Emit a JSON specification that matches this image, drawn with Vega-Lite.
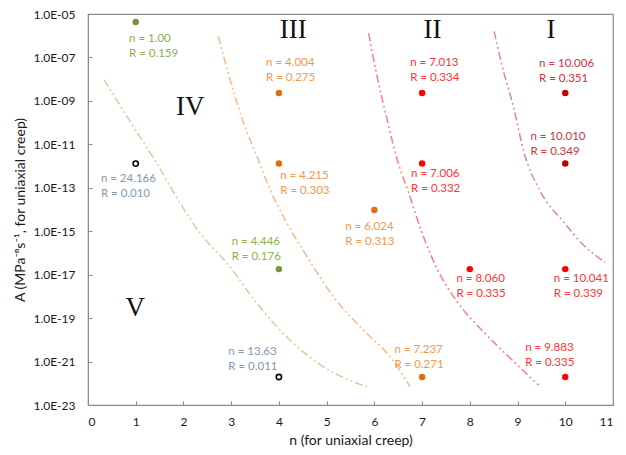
{
  "$schema": "https://vega.github.io/schema/vega-lite/v6.json",
  "width": 525,
  "height": 391,
  "autosize": "none",
  "padding": {"left": 88, "top": 14, "right": 13, "bottom": 50},
  "background": "white",
  "config": {
    "view": {"stroke": "#8c8c8c", "strokeWidth": 1.2},
    "axis": {
      "grid": false,
      "domainColor": "#8c8c8c",
      "tickColor": "#8c8c8c",
      "tickSize": -4,
      "labelFont": "Lato",
      "labelFontSize": 12,
      "labelColor": "#1a1a1a",
      "titleFont": "Lato",
      "titleFontSize": 14,
      "titleFontWeight": "normal",
      "titleColor": "#1a1a1a"
    }
  },
  "datasets": {
    "curves": [
      {"boundary": "IV-V", "n": 0.335, "A": 9.3e-9},
      {"boundary": "IV-V", "n": 0.95, "A": 6.6e-11},
      {"boundary": "IV-V", "n": 1.44, "A": 1.35e-12},
      {"boundary": "IV-V", "n": 1.93, "A": 1.95e-14},
      {"boundary": "IV-V", "n": 2.35, "A": 8.1e-16},
      {"boundary": "IV-V", "n": 2.91, "A": 3.4e-17},
      {"boundary": "IV-V", "n": 3.54, "A": 4.8e-19},
      {"boundary": "IV-V", "n": 4.23, "A": 9.8e-21},
      {"boundary": "IV-V", "n": 4.93, "A": 5.8e-22},
      {"boundary": "IV-V", "n": 5.84, "A": 6.9e-23},
      {"boundary": "III-IV", "n": 2.73, "A": 9.3e-7},
      {"boundary": "III-IV", "n": 2.98, "A": 9.3e-9},
      {"boundary": "III-IV", "n": 3.26, "A": 9.5e-11},
      {"boundary": "III-IV", "n": 3.54, "A": 2.75e-12},
      {"boundary": "III-IV", "n": 3.82, "A": 7.9e-14},
      {"boundary": "III-IV", "n": 4.17, "A": 2.3e-15},
      {"boundary": "III-IV", "n": 4.59, "A": 6.8e-17},
      {"boundary": "III-IV", "n": 5.14, "A": 9.8e-19},
      {"boundary": "III-IV", "n": 5.77, "A": 2.8e-20},
      {"boundary": "III-IV", "n": 6.33, "A": 1.66e-21},
      {"boundary": "III-IV", "n": 6.75, "A": 6.8e-23},
      {"boundary": "II-III", "n": 5.88, "A": 1.3e-6},
      {"boundary": "II-III", "n": 6.05, "A": 1.6e-8},
      {"boundary": "II-III", "n": 6.26, "A": 1.6e-10},
      {"boundary": "II-III", "n": 6.47, "A": 2.3e-12},
      {"boundary": "II-III", "n": 6.71, "A": 6.6e-14},
      {"boundary": "II-III", "n": 6.99, "A": 9.5e-16},
      {"boundary": "II-III", "n": 7.31, "A": 1.95e-17},
      {"boundary": "II-III", "n": 7.73, "A": 5.8e-19},
      {"boundary": "II-III", "n": 8.29, "A": 2.3e-20},
      {"boundary": "II-III", "n": 8.85, "A": 1.4e-21},
      {"boundary": "II-III", "n": 9.44, "A": 8.3e-23},
      {"boundary": "I-II", "n": 8.51, "A": 1.6e-6},
      {"boundary": "I-II", "n": 8.67, "A": 4.6e-8},
      {"boundary": "I-II", "n": 8.92, "A": 4.7e-10},
      {"boundary": "I-II", "n": 9.13, "A": 4.7e-12},
      {"boundary": "I-II", "n": 9.48, "A": 6.6e-14},
      {"boundary": "I-II", "n": 9.96, "A": 2.75e-15},
      {"boundary": "I-II", "n": 10.38, "A": 2.3e-16},
      {"boundary": "I-II", "n": 10.84, "A": 3.7e-17}
    ],
    "points": [
      {"group": "green", "n": 1, "A": 4.3e-6},
      {"group": "open", "n": 1, "A": 1.3e-12},
      {"group": "orange", "n": 4, "A": 2.3e-9},
      {"group": "orange", "n": 4, "A": 1.3e-12},
      {"group": "green", "n": 4, "A": 1.8e-17},
      {"group": "open", "n": 4, "A": 1.95e-22},
      {"group": "orange", "n": 6, "A": 9.5e-15},
      {"group": "orange", "n": 7, "A": 1.95e-22},
      {"group": "red", "n": 7, "A": 2.3e-9},
      {"group": "red", "n": 7, "A": 1.3e-12},
      {"group": "red", "n": 8, "A": 1.8e-17},
      {"group": "red", "n": 10, "A": 1.8e-17},
      {"group": "red", "n": 10, "A": 1.95e-22},
      {"group": "darkred", "n": 10, "A": 2.3e-9},
      {"group": "darkred", "n": 10, "A": 1.3e-12}
    ],
    "labels": [
      {"group": "green", "n": 0.86, "A": 1.4e-6, "text": "n = 1.00\nR = 0.159"},
      {"group": "orange", "n": 3.73, "A": 1.05e-7, "text": "n = 4.004\nR = 0.275"},
      {"group": "gray", "n": 0.27, "A": 4.9e-13, "text": "n = 24.166\nR = 0.010"},
      {"group": "orange", "n": 4.03, "A": 6.3e-13, "text": "n = 4.215\nR = 0.303"},
      {"group": "orange", "n": 5.39, "A": 3.1e-15, "text": "n = 6.024\nR = 0.313"},
      {"group": "green", "n": 3.01, "A": 6.3e-16, "text": "n = 4.446\nR = 0.176"},
      {"group": "gray", "n": 2.94, "A": 5.0e-21, "text": "n = 13.63\nR = 0.011"},
      {"group": "red", "n": 6.75, "A": 1.05e-7, "text": "n = 7.013\nR = 0.334"},
      {"group": "darkred", "n": 9.45, "A": 9.8e-8, "text": "n = 10.006\nR = 0.351"},
      {"group": "darkred", "n": 9.27, "A": 4.1e-11, "text": "n = 10.010\nR = 0.349"},
      {"group": "red", "n": 6.77, "A": 8.1e-13, "text": "n = 7.006\nR = 0.332"},
      {"group": "red", "n": 7.72, "A": 1.17e-17, "text": "n = 8.060\nR = 0.335"},
      {"group": "red", "n": 9.76, "A": 1.2e-17, "text": "n = 10.041\nR = 0.339"},
      {"group": "orange", "n": 6.42, "A": 6.5e-21, "text": "n = 7.237\nR = 0.271"},
      {"group": "red", "n": 9.16, "A": 7.8e-21, "text": "n = 9.883\nR = 0.335"}
    ],
    "regions": [
      {"n": 4.3, "A": 1.8e-6, "text": "III"},
      {"n": 7.22, "A": 1.8e-6, "text": "II"},
      {"n": 9.7, "A": 1.8e-6, "text": "I"},
      {"n": 2.14, "A": 5.5e-10, "text": "IV"},
      {"n": 0.99, "A": 2.8e-19, "text": "V"}
    ]
  },
  "encoding": {
    "x": {
      "field": "n",
      "type": "quantitative",
      "scale": {"domain": [0, 11], "nice": false, "zero": false},
      "axis": {
        "title": "n (for uniaxial creep)",
        "values": [0, 1, 2, 3, 4, 5, 6, 7, 8, 9, 10, 11],
        "format": "d",
        "labelPadding": 15,
        "titlePadding": 6
      }
    },
    "y": {
      "field": "A",
      "type": "quantitative",
      "scale": {"type": "log", "domain": [1e-23, 1e-5], "nice": false},
      "axis": {
        "title": "A (MPa⁻ⁿs⁻¹, for uniaxial creep)",
        "values": [1e-23, 1e-21, 1e-19, 1e-17, 1e-15, 1e-13, 1e-11, 1e-9, 1e-7, 1e-5],
        "labelExpr": "'1.0E-' + (abs(round(log(datum.value)/LN10)) < 10 ? '0' : '') + abs(round(log(datum.value)/LN10))",
        "labelPadding": 17,
        "titlePadding": 5
      }
    }
  },
  "layer": [
    {
      "data": {"name": "curves"},
      "mark": {"type": "line", "strokeWidth": 1.5, "strokeDash": [8, 3, 2, 3, 2, 3], "interpolate": "monotone"},
      "encoding": {
        "stroke": {
          "field": "boundary",
          "type": "nominal",
          "scale": {"domain": ["IV-V", "III-IV", "II-III", "I-II"], "range": ["#C4D79B", "#F9B98A", "#FF7C80", "#D98C90"]},
          "legend": null
        },
        "detail": {"field": "boundary"},
        "order": {"field": "n", "type": "quantitative"}
      }
    },
    {
      "data": {"name": "points"},
      "transform": [{"filter": "datum.group !== 'open'"}],
      "mark": {"type": "point", "filled": true, "size": 42, "opacity": 1},
      "encoding": {
        "color": {
          "field": "group",
          "type": "nominal",
          "scale": {"domain": ["green", "orange", "red", "darkred"], "range": ["#77933C", "#E46C0A", "#FF0000", "#C00000"]},
          "legend": null
        }
      }
    },
    {
      "data": {"name": "points"},
      "transform": [{"filter": "datum.group === 'open'"}],
      "mark": {"type": "point", "filled": false, "size": 28, "stroke": "#000000", "strokeWidth": 1.6, "fill": "white", "opacity": 1}
    },
    {
      "data": {"name": "labels"},
      "mark": {"type": "text", "align": "left", "baseline": "top", "lineBreak": "\n", "lineHeight": 15, "font": "Lato", "fontSize": 11.5},
      "encoding": {
        "text": {"field": "text"},
        "fill": {
          "field": "group",
          "type": "nominal",
          "scale": {"domain": ["green", "gray", "orange", "red", "darkred"], "range": ["#8DB04D", "#8497B0", "#F79646", "#FF3333", "#D0333C"]},
          "legend": null
        }
      }
    },
    {
      "data": {"name": "regions"},
      "mark": {"type": "text", "align": "center", "baseline": "middle", "font": "Liberation Serif", "fontSize": 27, "fill": "#111111"},
      "encoding": {"text": {"field": "text"}}
    }
  ]
}
